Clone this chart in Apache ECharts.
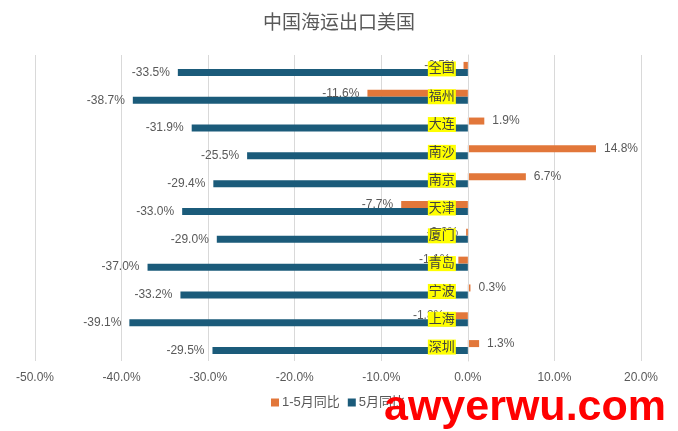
<!DOCTYPE html>
<html>
<head>
<meta charset="utf-8">
<script src="https://cdn.jsdelivr.net/npm/echarts@6/dist/echarts.min.js"></script>
<style>
html,body{margin:0;padding:0;background:#fff;}
#c{width:678px;height:431px;}
</style>
</head>
<body>
<div id="c"></div>
<script>
var categories = ['全国','福州','大连','南沙','南京','天津','厦门','青岛','宁波','上海','深圳'];
var ytdValues = [-0.5, -11.6, 1.9, 14.8, 6.7, -7.7, -0.2, -1.1, 0.3, -1.8, 1.3];
var mayValues = [-33.5, -38.7, -31.9, -25.5, -29.4, -33.0, -29.0, -37.0, -33.2, -39.1, -29.5];
var seriesNames = ['1-5月同比', '5月同比'];
var xTicks = {min: -50, max: 20, interval: 10};

function toItems(arr) {
  return arr.map(function (v) {
    return {value: v, label: {position: v < 0 ? 'left' : 'right'}};
  });
}
var W = 678, gridLeft = 35, gridRight = 37;
var gridW = W - gridLeft - gridRight;
var zeroOffset = -gridW * (0 - xTicks.min) / (xTicks.max - xTicks.min);

var fontFam = '"Liberation Sans","Noto Sans CJK SC",sans-serif';
var chart = echarts.init(document.getElementById('c'));
chart.setOption({
  animation: false,
  textStyle: {fontFamily: fontFam},
  title: {
    text: '中国海运出口美国', left: 'center', top: 9,
    textStyle: {fontSize: 19, fontWeight: 'normal', color: '#595959', fontFamily: fontFam}
  },
  legend: {
    bottom: 17, left: 266, itemWidth: 8, itemHeight: 8, itemGap: 8,
    icon: 'rect',
    textStyle: {fontSize: 13, color: '#595959', padding: [0,0,0,-2]},
    data: seriesNames
  },
  grid: {left: gridLeft, right: gridRight, top: 55, bottom: 70, containLabel: false, outerBoundsMode: 'none'},
  xAxis: {
    type: 'value', min: xTicks.min, max: xTicks.max, interval: xTicks.interval,
    axisLine: {show: false}, axisTick: {show: false},
    splitLine: {show: true, lineStyle: {color: '#d9d9d9', width: 1}},
    axisLabel: {
      margin: 11, fontSize: 12, color: '#595959',
      formatter: function (v) { return v.toFixed(1) + '%'; }
    }
  },
  yAxis: {
    type: 'category', data: categories, inverse: true, z: 10,
    position: 'left', offset: zeroOffset,
    axisLine: {show: true, onZero: false, lineStyle: {color: '#d9d9d9'}},
    axisTick: {show: false},
    axisLabel: {
      margin: 12, fontSize: 13, color: '#404040',
      backgroundColor: '#ffff00', padding: [1, 1, 1, 1]
    }
  },
  series: [
    {
      name: seriesNames[0], type: 'bar', data: toItems(ytdValues),
      barWidth: 7, barGap: '0%',
      itemStyle: {color: '#e2773a'},
      label: {show: true, distance: 8, fontSize: 12, color: '#595959',
        formatter: function (p) { return p.value.toFixed(1) + '%'; }}
    },
    {
      name: seriesNames[1], type: 'bar', data: toItems(mayValues),
      barWidth: 7, barGap: '0%',
      itemStyle: {color: '#1b5b7a'},
      label: {show: true, distance: 8, fontSize: 12, color: '#595959',
        formatter: function (p) { return p.value.toFixed(1) + '%'; }}
    }
  ],
  graphic: [{
    type: 'text', left: 384, top: 387, z: 100,
    style: {text: 'awyerwu.com', fill: '#ff0000', fontSize: 43, fontWeight: 'bold', fontFamily: '"Liberation Sans",Arial,sans-serif'}
  }]
});
</script>
</body>
</html>
